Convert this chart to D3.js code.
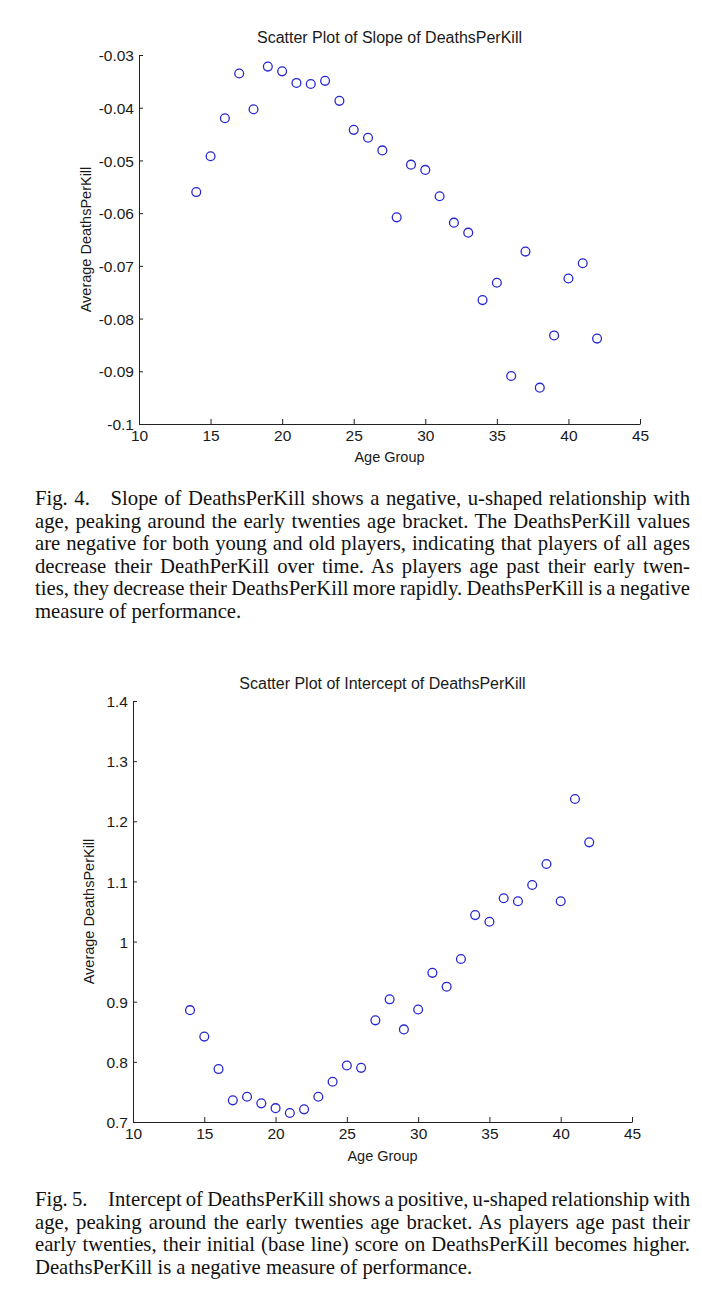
<!DOCTYPE html>
<html>
<head>
<meta charset="utf-8">
<script src="https://cdn.jsdelivr.net/npm/d3@7"></script>
<style>
  html, body { margin: 0; padding: 0; background: #fff; }
  svg { display: block; }
</style>
</head>
<body>
<svg id="chart" width="702" height="1298"></svg>
<script>
// ---------------- data ----------------
const ageGroups = [14,15,16,17,18,19,20,21,22,23,24,25,26,27,28,29,30,31,32,33,34,35,36,37,38,39,40,41,42];
const slopeValues = [-0.0560,-0.0492,-0.0420,-0.0335,-0.0403,-0.0322,-0.0331,-0.0353,-0.0355,-0.0349,
                     -0.0387,-0.0442,-0.0457,-0.0481,-0.0608,-0.0508,-0.0518,-0.0568,-0.0618,-0.0637,
                     -0.0765,-0.0732,-0.0909,-0.0673,-0.0931,-0.0832,-0.0724,-0.0695,-0.0838];
const interceptValues = [0.886,0.842,0.788,0.736,0.742,0.731,0.723,0.715,0.721,0.742,
                         0.767,0.794,0.790,0.869,0.904,0.854,0.887,0.948,0.925,0.971,
                         1.044,1.033,1.072,1.067,1.094,1.129,1.067,1.237,1.165];
const xTicks = [10,15,20,25,30,35,40,45];
const xTickLabels = ["10","15","20","25","30","35","40","45"];
const slopeTicks = [-0.1,-0.09,-0.08,-0.07,-0.06,-0.05,-0.04,-0.03];
const slopeTickLabels = ["-0.1","-0.09","-0.08","-0.07","-0.06","-0.05","-0.04","-0.03"];
const interceptTicks = [0.7,0.8,0.9,1.0,1.1,1.2,1.3,1.4];
const interceptTickLabels = ["0.7","0.8","0.9","1","1.1","1.2","1.3","1.4"];
const titles = ["Scatter Plot of Slope of DeathsPerKill", "Scatter Plot of Intercept of DeathsPerKill"];
const xAxisTitle = "Age Group";
const yAxisTitle = "Average DeathsPerKill";
const caption1 = [
  "Fig. 4.\u2002\u2002Slope of DeathsPerKill shows a negative, u-shaped relationship with",
  "age, peaking around the early twenties age bracket. The DeathsPerKill values",
  "are negative for both young and old players, indicating that players of all ages",
  "decrease their DeathPerKill over time. As players age past their early twen-",
  "ties, they decrease their DeathsPerKill more rapidly. DeathsPerKill is a negative",
  "measure of performance."
];
const caption2 = [
  "Fig. 5.\u2002\u2002Intercept of DeathsPerKill shows a positive, u-shaped relationship with",
  "age, peaking around the early twenties age bracket. As players age past their",
  "early twenties, their initial (base line) score on DeathsPerKill becomes higher.",
  "DeathsPerKill is a negative measure of performance."
];

// ---------------- drawing ----------------
const svg = d3.select("#chart");
svg.append("rect").attr("width", 702).attr("height", 1298).attr("fill", "#fff");

const sansFont = "'Liberation Sans', Arial, sans-serif";
const serifFont = "'Liberation Serif', 'Times New Roman', serif";
const textColor = "#1a1a1a";
const markerColor = "#2626d2";

function scatter(cfg) {
  const g = svg.append("g");
  const x = d3.scaleLinear().domain([10, 45]).range([cfg.left, cfg.right]);
  const y = d3.scaleLinear().domain(cfg.yDomain).range([cfg.bottom, cfg.top]);

  const xAxis = d3.axisBottom(x).tickValues(xTicks)
    .tickFormat((d, i) => xTickLabels[i]).tickSizeInner(-5).tickSizeOuter(0).tickPadding(6);
  const yAxis = d3.axisLeft(y).tickValues(cfg.yTicks)
    .tickFormat((d, i) => cfg.yTickLabels[i]).tickSizeInner(-4).tickSizeOuter(0).tickPadding(5);

  const gx = g.append("g").attr("transform", `translate(0,${cfg.bottom})`).call(xAxis);
  const gy = g.append("g").attr("transform", `translate(${cfg.left},0)`).call(yAxis);
  [gx, gy].forEach(a => {
    a.select(".domain").attr("stroke", "#222").attr("stroke-width", 1);
    a.selectAll(".tick line").attr("stroke", "#222").attr("stroke-width", 1);
    a.selectAll(".tick text").attr("fill", textColor)
      .style("font-family", sansFont).style("font-size", "15.5px");
  });
  gy.selectAll(".tick text").attr("dy", "0.36em");
  gx.selectAll(".tick text").attr("dy", "0.68em");

  g.append("g").selectAll("circle")
    .data(ageGroups.map((a, i) => [a, cfg.values[i]]))
    .join("circle")
    .attr("cx", d => x(d[0]))
    .attr("cy", d => y(d[1]))
    .attr("r", 4.4)
    .attr("fill", "none")
    .attr("stroke", markerColor)
    .attr("stroke-width", 1.3);

  const cx = (cfg.left + cfg.right) / 2;
  g.append("text").attr("x", cx).attr("y", cfg.titleY)
    .attr("text-anchor", "middle").attr("fill", textColor)
    .style("font-family", sansFont).style("font-size", "16px")
    .text(cfg.title);
  g.append("text").attr("x", cx).attr("y", cfg.xLabelY)
    .attr("text-anchor", "middle").attr("fill", textColor)
    .style("font-family", sansFont).style("font-size", "14.5px")
    .text(xAxisTitle);
  g.append("text")
    .attr("transform", `translate(${cfg.yLabelX},${(cfg.top + cfg.bottom) / 2}) rotate(-90)`)
    .attr("text-anchor", "middle").attr("fill", textColor)
    .style("font-family", sansFont).style("font-size", "14.5px")
    .text(yAxisTitle);
}

scatter({
  left: 139, right: 640, top: 55, bottom: 424,
  yDomain: [-0.1, -0.03], yTicks: slopeTicks, yTickLabels: slopeTickLabels,
  values: slopeValues, title: titles[0], titleY: 43, xLabelY: 462, yLabelX: 91
});
scatter({
  left: 133, right: 632, top: 701, bottom: 1122,
  yDomain: [0.7, 1.4], yTicks: interceptTicks, yTickLabels: interceptTickLabels,
  values: interceptValues, title: titles[1], titleY: 689, xLabelY: 1161, yLabelX: 94
});

function caption(lines, x0, x1, y0, lh) {
  const g = svg.append("g");
  lines.forEach((line, i) => {
    const t = g.append("text").attr("x", x0).attr("y", y0 + i * lh)
      .attr("fill", "#111")
      .style("font-family", serifFont).style("font-size", "20.7px")
      .text(line);
    if (i < lines.length - 1) {
      const natural = t.node().getComputedTextLength();
      const spaces = (line.match(/ /g) || []).length;
      const extra = (x1 - x0 - natural) / spaces;
      if (extra >= -1.5) {
        t.style("word-spacing", extra + "px");
      } else {
        t.attr("textLength", x1 - x0).attr("lengthAdjust", "spacingAndGlyphs");
      }
    }
  });
}
caption(caption1, 35, 690, 505, 22.6);
caption(caption2, 35, 690, 1206, 22.5);
</script>
</body>
</html>
